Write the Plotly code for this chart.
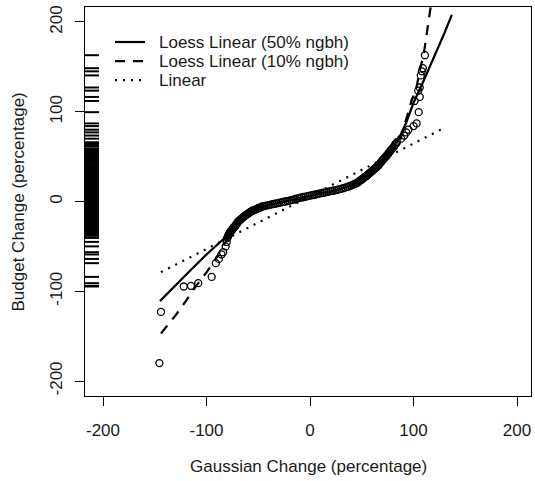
import plotly.graph_objects as go

# ---- data ----
gauss_change = [
    -145.5, -144, -122, -115, -108, -95, -91, -88, -85.5, -84, -81.5, -80.5, -80,
    -79.5, -79, -78.5, -78, -77.5, -77, -76.5, -76, -75.5, -75, -74.5, -74, -73.5, -73,
    -72, -71.5, -71, -70.5, -70, -69, -68, -67, -66, -65, -64, -63, -62, -61, -60, -59,
    -58, -57, -56, -55, -54, -53, -52, -51, -50, -49, -48, -47, -46, -45,
    -44, -42, -40, -38, -36, -34, -32, -30, -28, -26, -24, -22, -20, -18, -16, -14,
    -12, -10, -8, -6, -4, -2, 0, 2, 4, 6, 8, 10, 12, 14, 16, 18, 20, 22, 24, 26, 28,
    30, 32, 34, 36, 38, 40, 42, 44,
    45, 46, 47, 48, 49, 50, 51, 52, 53, 54, 55, 56, 57, 58, 59, 60, 61, 62, 63, 64,
    65, 66, 67, 68, 69, 70, 71, 72, 73, 74, 75, 76, 77, 78, 79,
    81, 82, 83, 84, 88, 91, 93, 95, 100, 103, 105, 101, 106, 104.5, 106, 107, 108, 109, 111,
]
budget_change = [
    -180, -123, -94.7, -94, -91, -84, -68.7, -64, -59, -56.5, -50, -45, -40.5,
    -40, -38, -37, -36, -35, -34, -33, -32.5, -32, -31, -30, -29.5, -29, -28,
    -27, -26, -25, -24.5, -23, -22, -21, -20, -19, -18, -17, -16, -15, -14.5, -13.5, -13,
    -12, -11, -10.5, -10, -9.5, -9, -8.5, -8, -7.5, -7, -6.5, -6, -5.5, -5.2,
    -5, -4.5, -4, -3.5, -3, -2.5, -2, -1.5, -1, -0.5, 0, 0.5, 1, 1.5, 2, 2.8,
    3.5, 4, 4.5, 5, 5.5, 6, 6.5, 7, 7.5, 8, 8.5, 9, 9.5, 10, 10.5, 11, 11.5, 12, 12.5, 13, 13.5,
    14, 14.8, 15.5, 16.3, 17, 18, 19, 20,
    20.5, 21, 22, 23, 24, 24.5, 25.5, 26.5, 27.5, 28, 29, 30, 31, 32, 33, 34, 35, 36, 37, 38,
    39, 40, 41.5, 43, 44.5, 46, 47, 48.5, 50, 51, 52.5, 54, 55.5, 57, 58.5,
    61, 63, 64.5, 66, 70, 73.5, 77, 80, 84, 87, 99.5, 112, 116.5, 123.5, 127, 140.5, 145, 148.5, 163,
]

loess50_x = [-145, -130, -115, -100, -90, -80, -70, -60, -50, -40, -30, -20, -10, 0, 10,
             20, 30, 40, 50, 60, 70, 80, 87, 93, 100, 110, 120, 130, 137]
loess50_y = [-111, -93, -76, -59, -48.5, -38, -25, -14, -7, -3.5, -1.5, 1, 4, 6.5, 9,
             11.5, 14, 18, 24.5, 34, 46, 60, 73, 88, 110, 135, 161, 188, 208]

loess10_x = [-144, -130, -120, -110, -100, -90, -82, -75, -70, -60, -50, -40, -30, -20, -10,
             0, 10, 20, 30, 40, 50, 60, 70, 80, 87, 93, 98, 103, 106, 110, 113, 116, 119]
loess10_y = [-147, -127, -111, -94, -79, -62, -46, -32, -23, -13.5, -7.5, -4, -1.5, 1, 4,
             6.5, 9, 11.5, 14, 18, 24.5, 34, 46, 58, 68, 91, 112, 128, 146, 165, 187, 213, 236]

linear_x = [-144, 131]
linear_y = [-78.7, 82.8]

# rug of budget change values shown on the left edge
rug_values = [v for v in budget_change if v > -100]

x_ticks = [-200, -100, 0, 100, 200]
y_ticks = [-200, -100, 0, 100, 200]

legend_labels = ["Loess Linear (50% ngbh)", "Loess Linear (10% ngbh)", "Linear"]
legend_dash = ["solid", "10px,8px", "2px,6px"]

FONT = "Liberation Sans, Arial, sans-serif"
TXT = "#1a1a1a"

fig = go.Figure()

fig.add_trace(go.Scatter(
    x=gauss_change, y=budget_change, mode="markers",
    marker=dict(symbol="circle-open", size=7, color="black", line=dict(width=1.3, color="black")),
    showlegend=False, cliponaxis=True))

fig.add_trace(go.Scatter(x=loess50_x, y=loess50_y, mode="lines",
                         line=dict(color="black", width=2.2, dash="solid"), showlegend=False))
fig.add_trace(go.Scatter(x=loess10_x, y=loess10_y, mode="lines",
                         line=dict(color="black", width=2.2, dash=legend_dash[1]), showlegend=False))
fig.add_trace(go.Scatter(x=linear_x, y=linear_y, mode="lines",
                         line=dict(color="black", width=2.2, dash=legend_dash[2]), showlegend=False))

shapes = []
for v in rug_values:
    shapes.append(dict(type="line", xref="paper", yref="y", x0=0, x1=0.0314, y0=v, y1=v,
                       line=dict(color="black", width=2)))

# manual legend (top-left, inside the plot)
leg_y = [0.910, 0.861, 0.812]
annotations = []
for lab, dsh, yy in zip(legend_labels, legend_dash, leg_y):
    shapes.append(dict(type="line", xref="paper", yref="paper", x0=0.0673, x1=0.1345,
                       y0=yy, y1=yy, line=dict(color="black", width=2.2, dash=dsh)))
    annotations.append(dict(xref="paper", yref="paper", x=0.1614, y=yy, text=lab,
                            showarrow=False, xanchor="left", yanchor="middle",
                            font=dict(family=FONT, size=17, color=TXT)))

annotations.append(dict(xref="paper", yref="paper", x=0.5, y=-0.180, text="Gaussian Change (percentage)",
                        showarrow=False, xanchor="center", yanchor="middle",
                        font=dict(family=FONT, size=17, color=TXT)))
annotations.append(dict(xref="paper", yref="paper", x=-0.148, y=0.5, text="Budget Change (percentage)",
                        showarrow=False, xanchor="center", yanchor="middle", textangle=-90,
                        font=dict(family=FONT, size=17, color=TXT)))

fig.update_layout(
    width=535, height=481,
    margin=dict(l=85, r=4, t=7, b=85, autoexpand=False),
    paper_bgcolor="white", plot_bgcolor="white",
    shapes=shapes, annotations=annotations,
    showlegend=False, hovermode=False,
    font=dict(family=FONT, size=17, color=TXT),
)
fig.update_xaxes(range=[-217.4, 213.5], tickvals=x_ticks, ticktext=[str(t) for t in x_ticks],
                 automargin=False,
                 showgrid=False, zeroline=False, showline=True, mirror=True, linecolor="black",
                 linewidth=1, ticks="outside", ticklen=9, tickwidth=1, tickcolor="black",
                 ticklabelstandoff=10, tickfont=dict(family=FONT, size=17, color=TXT))
fig.update_yaxes(range=[-216.7, 216.7], tickvals=y_ticks, ticktext=[str(t) for t in y_ticks],
                 automargin=False,
                 showgrid=False, zeroline=False, showline=True, mirror=True, linecolor="black",
                 linewidth=1, ticks="outside", ticklen=9, tickwidth=1, tickcolor="black",
                 tickangle=-90, ticklabelstandoff=6, tickfont=dict(family=FONT, size=17, color=TXT))

fig.write_html("out.html", config={"displayModeBar": False, "staticPlot": True},
               post_script="document.body.style.margin='0';document.body.style.overflow='hidden';")
